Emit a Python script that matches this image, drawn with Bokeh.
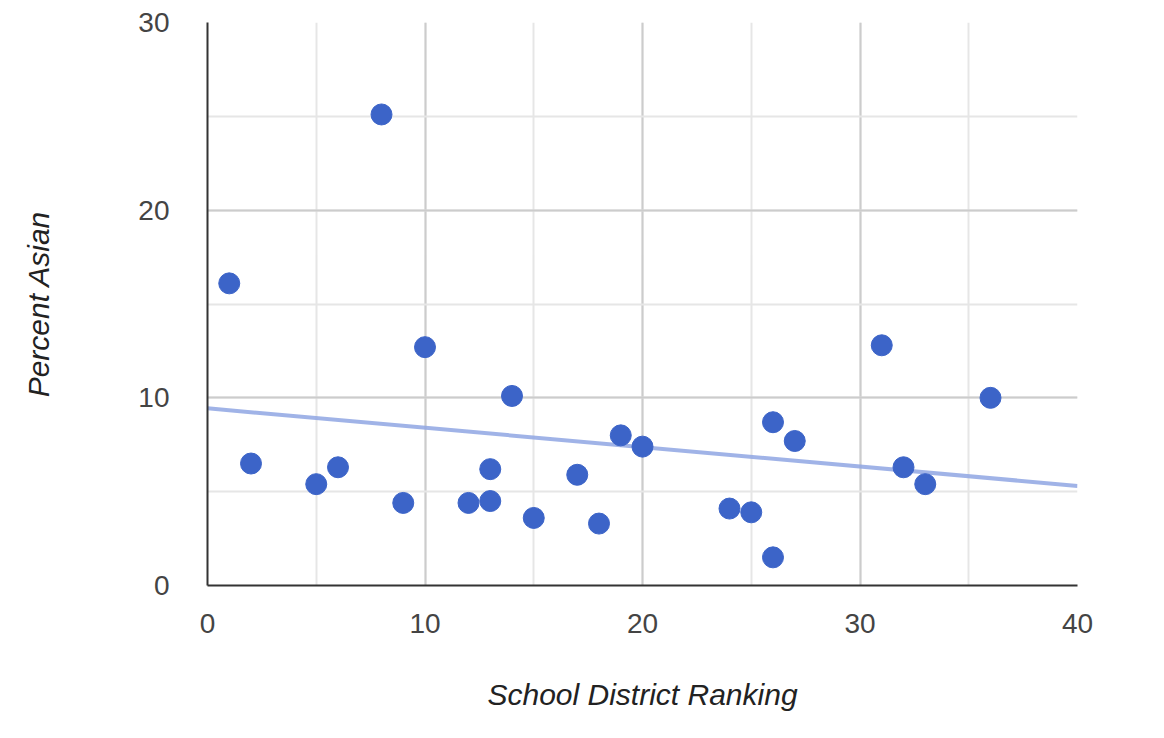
import numpy as np
from bokeh.plotting import figure
from bokeh.models import Range1d, SingleIntervalTicker, ColumnDataSource
from bokeh.embed import file_html
from bokeh.resources import INLINE

# Data
ranking = [1, 2, 5, 6, 8, 9, 10, 12, 13, 13, 14, 15, 17, 18, 19, 20,
           24, 25, 26, 26, 27, 31, 32, 33, 36]
pct_asian = [16.1, 6.5, 5.4, 6.3, 25.1, 4.4, 12.7, 4.4, 6.2, 4.5, 10.1, 3.6,
             5.9, 3.3, 8.0, 7.4, 4.1, 3.9, 8.7, 1.5, 7.7, 12.8, 6.3, 5.4, 10.0]
x_label = "School District Ranking"
y_label = "Percent Asian"

FONT = "Liberation Sans"
TXT = "#444444"

p = figure(width=1148, height=722, output_backend="svg", toolbar_location=None,
           x_range=Range1d(0, 40), y_range=Range1d(0, 30),
           min_border_left=207, min_border_right=71, min_border_top=22,
           min_border_bottom=137)
p.outline_line_color = None
p.background_fill_color = "white"
p.border_fill_color = "white"

# trendline (least squares)
slope, intercept = np.polyfit(ranking, pct_asian, 1)
tx = [0, 40]
ty = [intercept + slope * v for v in tx]
p.line(tx, ty, line_color="#8fa6e3", line_width=4, line_alpha=0.85)

src = ColumnDataSource(dict(x=ranking, y=pct_asian))
p.scatter("x", "y", source=src, size=21, fill_color="#3c64c8", line_color="#3c64c8")

for ax in (p.xaxis[0], p.yaxis[0]):
    ax.ticker = SingleIntervalTicker(interval=10, num_minor_ticks=2)
    ax.major_tick_line_color = None
    ax.minor_tick_line_color = None
    ax.axis_line_color = "#333333"
    ax.axis_line_width = 2
    ax.major_label_text_font = FONT
    ax.major_label_text_font_size = "28px"
    ax.major_label_text_color = TXT
    ax.axis_label_text_font = FONT
    ax.axis_label_text_font_size = "30px"
    ax.axis_label_text_font_style = "italic"
    ax.axis_label_text_color = "#222222"

p.xaxis.axis_label = x_label
p.yaxis.axis_label = y_label
p.xaxis.major_label_standoff = 22
p.yaxis.major_label_standoff = 32
p.xaxis.axis_label_standoff = 42
p.yaxis.axis_label_standoff = 80

for g in (p.xgrid[0], p.ygrid[0]):
    g.grid_line_color = "#cccccc"
    g.grid_line_width = 2
    g.minor_grid_line_color = "#e6e6e6"
    g.minor_grid_line_width = 2

open("out.html", "w").write(file_html(p, INLINE))
